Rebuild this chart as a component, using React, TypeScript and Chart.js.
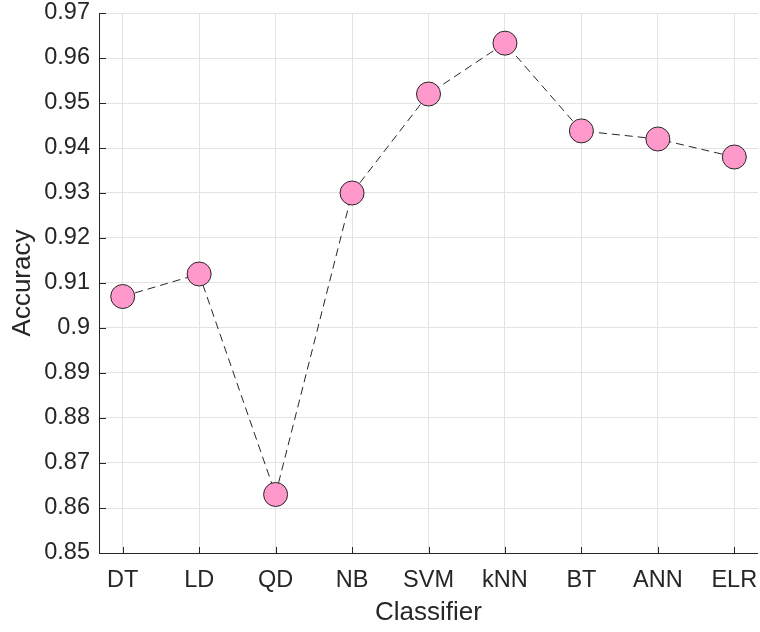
import React, { useEffect, useRef } from "react";
import { Chart, registerables } from "chart.js";

Chart.register(...registerables);

const categories = ["DT", "LD", "QD", "NB", "SVM", "kNN", "BT", "ANN", "ELR"];
const accuracy = [0.907, 0.912, 0.863, 0.93, 0.952, 0.9633, 0.9438, 0.942, 0.938];
const yTickValues = [0.85, 0.86, 0.87, 0.88, 0.89, 0.9, 0.91, 0.92, 0.93, 0.94, 0.95, 0.96, 0.97];
const yTickLabels = ["0.85", "0.86", "0.87", "0.88", "0.89", "0.9", "0.91", "0.92", "0.93", "0.94", "0.95", "0.96", "0.97"];
const xTitle = "Classifier";
const yTitle = "Accuracy";

const FONT = '"Liberation Sans", Arial, Helvetica, sans-serif';
const TEXT = "#262626";

const zeroPad = (s: any) => {
  s.paddingLeft = 0;
  s.paddingRight = 0;
  s.paddingTop = 0;
  s.paddingBottom = 0;
};

const inwardTicks = {
  id: "inwardTicks",
  afterDraw(chart: any) {
    const { ctx, chartArea } = chart;
    const xs = chart.scales.x;
    const ys = chart.scales.y;
    ctx.save();
    ctx.strokeStyle = TEXT;
    ctx.lineWidth = 1;
    ctx.beginPath();
    ctx.moveTo(chartArea.left + 0.5, chartArea.top);
    ctx.lineTo(chartArea.left + 0.5, chartArea.bottom + 0.5);
    ctx.lineTo(chartArea.right, chartArea.bottom + 0.5);
    ctx.stroke();
    ctx.beginPath();
    xs.ticks.forEach((t: any) => {
      const px = Math.round(xs.getPixelForValue(t.value)) + 0.5;
      ctx.moveTo(px, chartArea.bottom);
      ctx.lineTo(px, chartArea.bottom - 6);
    });
    ys.ticks.forEach((t: any) => {
      const py = Math.round(ys.getPixelForValue(t.value)) + 0.5;
      ctx.moveTo(chartArea.left, py);
      ctx.lineTo(chartArea.left + 7, py);
    });
    ctx.stroke();
    ctx.fillStyle = TEXT;
    ctx.font = `26px ${FONT}`;
    ctx.textAlign = "center";
    ctx.textBaseline = "middle";
    ctx.fillText(xTitle, (chartArea.left + chartArea.right) / 2, 613);
    ctx.translate(23, (chartArea.top + chartArea.bottom) / 2);
    ctx.rotate(-Math.PI / 2);
    ctx.fillText(yTitle, 0, 0);
    ctx.restore();
  },
};

export default function App() {
  const ref = useRef<HTMLCanvasElement | null>(null);
  useEffect(() => {
    document.body.style.margin = "0";
    const points = accuracy.map((v, i) => ({ x: i + 1, y: v }));
    const chart = new Chart(ref.current as HTMLCanvasElement, {
      type: "line",
      data: {
        datasets: [
          {
            data: points,
            borderColor: "#262626",
            borderWidth: 1,
            borderDash: [8, 5],
            pointRadius: 12,
            pointHoverRadius: 12,
            pointBackgroundColor: "#ff99cc",
            pointBorderColor: "#262626",
            pointBorderWidth: 1,
            fill: false,
            tension: 0,
            clip: false,
          },
        ],
      },
      options: {
        animation: false,
        responsive: false,
        events: [],
        layout: { autoPadding: false, padding: { top: 13, right: 2, left: 0, bottom: 0 } },
        plugins: { legend: { display: false }, tooltip: { enabled: false } },
        scales: {
          x: {
            type: "linear",
            min: 0.69,
            max: 9.31,
            afterBuildTicks: (s: any) => {
              s.ticks = categories.map((_, i) => ({ value: i + 1 }));
            },
            afterFit: (s: any) => {
              s.height = 79;
              zeroPad(s);
            },
            grid: { color: "#e3e3e3", drawTicks: false },
            border: { display: false },
            ticks: {
              padding: 13,
              color: TEXT,
              font: { family: FONT, size: 23.5 },
              maxRotation: 0,
              autoSkip: false,
              callback: (v: any) => categories[Math.round(v) - 1] ?? "",
            },
          },
          y: {
            type: "linear",
            min: 0.85,
            max: 0.97,
            afterBuildTicks: (s: any) => {
              s.ticks = yTickValues.map((v) => ({ value: v }));
            },
            afterFit: (s: any) => {
              s.width = 99;
              zeroPad(s);
            },
            grid: { color: "#e3e3e3", drawTicks: false },
            border: { display: false },
            ticks: {
              padding: 9,
              color: TEXT,
              font: { family: FONT, size: 23.5 },
              autoSkip: false,
              callback: (v: any) => {
                const idx = yTickValues.findIndex((t) => Math.abs(t - v) < 1e-6);
                return idx >= 0 ? yTickLabels[idx] : "";
              },
            },
          },
        },
      },
      plugins: [inwardTicks],
    });
    return () => chart.destroy();
  }, []);
  return (
    <div style={{ width: 760, height: 632, background: "#fff" }}>
      <canvas ref={ref} width={760} height={632} style={{ display: "block" }} />
    </div>
  );
}
